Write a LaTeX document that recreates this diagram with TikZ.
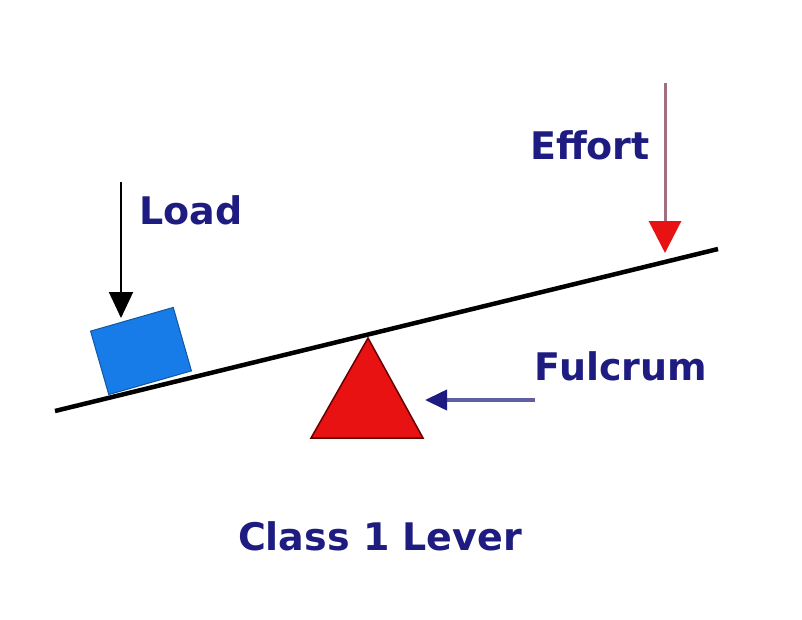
\documentclass[tikz,border=0pt]{standalone}
\usepackage{fontspec}
\setmainfont{DejaVu Sans}
\usetikzlibrary{arrows.meta}
\definecolor{navy}{RGB}{30,28,128}
\definecolor{leverred}{RGB}{232,18,18}
\definecolor{boxblue}{RGB}{24,124,232}
\definecolor{mauve}{RGB}{160,112,130}
\definecolor{slate}{RGB}{96,96,160}
\tikzset{
  lbl/.style={text=navy, font=\bfseries\fontsize{38}{38}\selectfont, inner sep=0pt},
}
\begin{document}
\begin{tikzpicture}[x=1pt,y=-1pt]
\useasboundingbox[fill=white] (0,0) rectangle (802,619);
% lever
\coordinate (L1) at (55,411);
\coordinate (L2) at (718,249);
% fulcrum
\coordinate (FA1) at (368,338);
\coordinate (FB1) at (311,438);
\coordinate (FB2) at (423,438);
\draw[draw=black!60!red, line width=1.5pt, fill=leverred, line join=miter] (FA1) -- (FB2) -- (FB1) -- cycle;
\draw[line width=4.5pt, black] (L1) -- (L2);
% load box
\node[draw=boxblue!70!black, line width=1pt, fill=boxblue, minimum width=86, minimum height=66, rotate=16, inner sep=0pt] (B) at (141,351) {};
% labels
\node[lbl] (load) at (191,210) {Load};
\node[lbl] (effort) at (590,145) {Effort};
\node[lbl] (fulcrum) at (621,366) {Fulcrum};
\node[lbl] (title) at (380,536) {Class 1 Lever};
% arrows
\coordinate (LA) at (121,182);
\coordinate (LT) at (121,318);
\draw[line width=2pt, -{Triangle[length=26,width=24]}] (LA) -- (LT);
\coordinate (EA) at (665,83);
\coordinate (ET) at (665,253);
\draw[line width=3pt, mauve, -{Triangle[length=32,width=32,fill=leverred,color=leverred]}] (EA) -- (ET);
\coordinate (FA) at (535,400);
\coordinate (FT) at (425,400);
\draw[line width=4pt, slate, -{Triangle[length=22,width=20,color=navy,fill=navy]}] (FA) -- (FT);
\end{tikzpicture}
\end{document}
